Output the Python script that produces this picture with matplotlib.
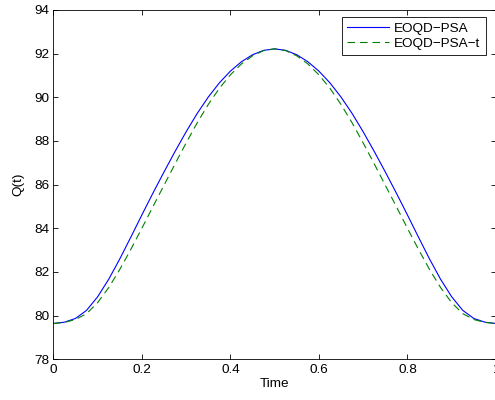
import matplotlib
matplotlib.use("Agg")
import matplotlib.pyplot as plt

time = [0.0, 0.025, 0.05, 0.075, 0.1, 0.125, 0.15, 0.175, 0.2, 0.225,
        0.25, 0.275, 0.3, 0.325, 0.35, 0.375, 0.4, 0.425, 0.45, 0.475,
        0.5, 0.525, 0.55, 0.575, 0.6, 0.625, 0.65, 0.675, 0.7, 0.725,
        0.75, 0.775, 0.8, 0.825, 0.85, 0.875, 0.9, 0.925, 0.95, 0.975, 1.0]

q_psa = [79.64, 79.70, 79.87, 80.24, 80.86, 81.66, 82.59, 83.59, 84.61, 85.61,
         86.58, 87.52, 88.42, 89.26, 90.01, 90.66, 91.20, 91.63, 91.95, 92.15,
         92.22, 92.15, 91.95, 91.63, 91.20, 90.66, 90.01, 89.26, 88.42, 87.52,
         86.58, 85.61, 84.61, 83.59, 82.59, 81.66, 80.86, 80.24, 79.87, 79.70, 79.64]

q_psa_t = [79.64, 79.69, 79.82, 80.09, 80.59, 81.28, 82.11, 83.03, 84.00, 84.99,
           85.97, 86.95, 87.91, 88.83, 89.67, 90.41, 91.03, 91.53, 91.90, 92.14,
           92.22, 92.14, 91.90, 91.53, 91.03, 90.41, 89.67, 88.83, 87.91, 86.95,
           85.97, 84.99, 84.00, 83.03, 82.11, 81.28, 80.59, 80.09, 79.82, 79.69, 79.64]

series_labels = ["EOQD\u2212PSA", "EOQD\u2212PSA\u2212t"]
x_ticks = [0, 0.2, 0.4, 0.6, 0.8, 1.0]
x_ticklabels = ["0", "0.2", "0.4", "0.6", "0.8", "1"]
y_ticks = [78, 80, 82, 84, 86, 88, 90, 92, 94]

FS = 9.7

plt.rcParams['font.family'] = ['Liberation Sans', 'DejaVu Sans']
plt.rcParams['lines.scale_dashes'] = False

fig = plt.figure(figsize=(4.95, 4.0), dpi=100)
ax = fig.add_axes([53.3 / 495, 40.7 / 400, 442.7 / 495, 349.3 / 400])

ax.plot(time, q_psa, color=(0, 0, 1), lw=0.8, label=series_labels[0],
        solid_joinstyle='round')
ax.plot(time, q_psa_t, color=(0, 0.5, 0), lw=0.8, dashes=(5.5, 3.5),
        label=series_labels[1])

ax.set_xlim(0, 1)
ax.set_ylim(78, 94)
ax.set_xticks(x_ticks)
ax.set_xticklabels(x_ticklabels)
ax.set_yticks(y_ticks)
ax.tick_params(direction='in', top=True, right=True, length=3.5, width=0.6,
               labelsize=FS, colors='black')
ax.tick_params(axis='x', pad=3.5)
ax.tick_params(axis='y', pad=3)
for s in ax.spines.values():
    s.set_linewidth(0.6)

ax.set_xlabel("Time", fontsize=FS, labelpad=1)
ax.set_ylabel("Q(t)", fontsize=FS, labelpad=7)

leg = ax.legend(loc='upper right', bbox_to_anchor=(485.7 / 495, 1 - 17 / 400),
                bbox_transform=fig.transFigure, borderaxespad=0, fontsize=FS,
                fancybox=False, framealpha=1, edgecolor='black',
                handlelength=3.1, labelspacing=0.2, borderpad=0.4,
                handletextpad=0.4)
leg.get_frame().set_linewidth(0.6)

fig.savefig("out.png", dpi=100)
